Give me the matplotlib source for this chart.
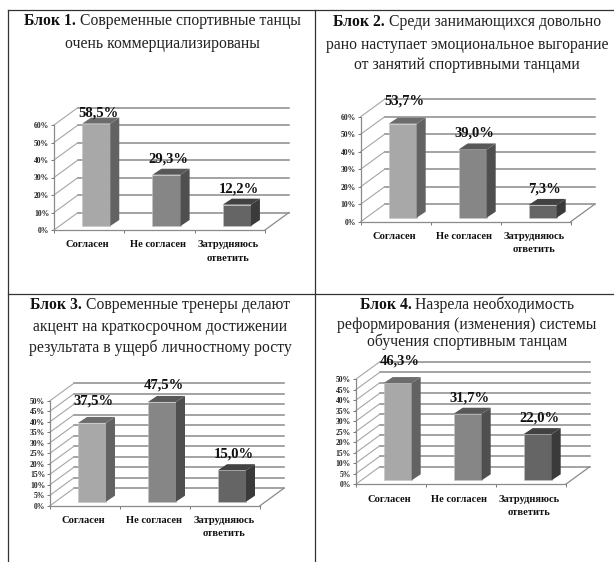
import matplotlib
matplotlib.use("Agg")
import matplotlib.pyplot as plt
from matplotlib.lines import Line2D

W, H = 614, 562
plt.rcParams['font.family'] = ['Liberation Serif', 'DejaVu Serif']

categories = ["Согласен", "Не согласен", "Затрудняюсь\nответить"]
block1_values = [58.5, 29.3, 12.2]
block2_values = [53.7, 39.0, 7.3]
block3_values = [37.5, 47.5, 15.0]
block4_values = [46.3, 31.7, 22.0]
block1_title = ["Современные спортивные танцы", "очень коммерциализированы"]
block2_title = ["Среди занимающихся довольно", "рано наступает эмоциональное выгорание", "от занятий спортивными танцами"]
block3_title = ["Современные тренеры делают", "акцент на краткосрочном достижении", "результата в ущерб личностному росту"]
block4_title = ["Назрела необходимость", "реформирования (изменения) системы", "обучения спортивным танцам"]
block_heads = ["Блок 1.", "Блок 2.", "Блок 3.", "Блок 4."]

front = ['#a8a8a8', '#868686', '#656565']
side = ['#626262', '#4f4f4f', '#3a3a3a']
top = ['#6c6c6c', '#585858', '#424242']
GRID = '#8a8a8a'

# layout: x0, x1, y0, ytop (px), ymax, step, title centre x, title line ys, first-label lift
panels = [
    (54, 265, 230, 125, 60, 10, 162, [21, 44], block1_values, block1_title, block_heads[0], [11, 16, 16]),
    (360.7, 570.7, 221.7, 116.7, 60, 10, 467, [22, 45, 65], block2_values, block2_title, block_heads[1], [22.7, 16, 16]),
    (50, 260, 505.7, 400.7, 50, 5, 160, [305, 327, 348], block3_values, block3_title, block_heads[2], [21.7, 17, 16]),
    (355.7, 565.7, 484.3, 379.3, 50, 5, 467, [305, 325, 342], block4_values, block4_title, block_heads[3], [21.7, 16, 16]),
]

fig = plt.figure(figsize=(W / 100, H / 100), dpi=100, facecolor='white')
renderer = fig.canvas.get_renderer()


def fx(px):
    return px / W


def fy(py):
    return 1 - py / H


def title_lines(head, lines, cx, ys):
    size = 11.35
    b = fig.text(0, 0, head, fontsize=size, fontweight='bold', color='#111111')
    r = fig.text(0, 0, lines[0], fontsize=size, color='#222222')
    bw = b.get_window_extent(renderer).width + 4
    rw = r.get_window_extent(renderer).width
    start = cx - (bw + rw) / 2
    b.set_position((fx(start), fy(ys[0])))
    b.set_va('center')
    r.set_position((fx(start + bw), fy(ys[0])))
    r.set_va('center')
    for line, y in zip(lines[1:], ys[1:]):
        fig.text(fx(cx), fy(y), line, fontsize=size, ha='center', va='center', color='#222222')


for x0, x1, y0, ytop, ymax, step, cx, ys, values, lines, head, lifts in panels:
    ax = fig.add_axes([fx(x0), fy(y0), (x1 - x0) / W, (y0 - ytop) / H])
    ax.patch.set_alpha(0)
    ax.set_xlim(0, 3)
    ax.set_ylim(0, ymax)
    ux = (x1 - x0) / 3          # px per category
    uy = (y0 - ytop) / ymax     # px per percent
    dx, dy = 24 / ux, 17.5 / uy  # wall depth
    bx, by = 9 / ux, 6 / uy      # bar depth
    base = 4 / uy                # bar base lift

    ticks = list(range(0, ymax + 1, step))
    for v in ticks:
        ax.plot([dx, 3 + dx], [v + dy, v + dy], color=GRID, lw=1.1, clip_on=False, zorder=1)
        ax.plot([0, dx], [v, v + dy], color='#a6a6a6', lw=0.8, clip_on=False, zorder=1)
    ax.plot([3, 3 + dx], [0, dy], color=GRID, lw=0.9, clip_on=False, zorder=1)

    left = [i + 0.4 for i in range(3)]
    ax.bar(left, values, width=0.4, bottom=base, align='edge', color=front,
           edgecolor='#c4c4c4', linewidth=0.4, clip_on=False, zorder=3)
    for i, (l, v) in enumerate(zip(left, values)):
        r = l + 0.4
        t = v + base
        ax.fill([r, r + bx, r + bx, r], [base, base + by, t + by, t], color=side[i], lw=0, clip_on=False, zorder=3)
        ax.fill([l, l + bx, r + bx, r], [t, t + by, t + by, t], color=top[i], lw=0, clip_on=False, zorder=3)
        ax.text(l + 0.2 + 2 / ux, t + lifts[i] / uy, f"{v:.1f}%".replace('.', ','),
                ha='center', va='center', fontsize=10.5, fontweight='bold', color='#111111',
                clip_on=False, zorder=5)

    for s in ('top', 'right'):
        ax.spines[s].set_visible(False)
    for s in ('left', 'bottom'):
        ax.spines[s].set_color('#8a8a8a')
        ax.spines[s].set_linewidth(0.9)
    ax.set_yticks(ticks, [f"{v}%" for v in ticks], fontsize=5.5, fontweight='bold', color='#222222')
    ax.tick_params(axis='y', length=2, width=0.7, color='#777777', pad=1.5)
    ax.set_xticks([0, 1, 2, 3], minor=True)
    ax.tick_params(axis='x', which='minor', length=2.5, width=0.7, color='#777777')
    ax.set_xticks([0.48, 1.48, 2.48], categories, fontsize=7.6, fontweight='bold', color='#111111', linespacing=1.6)
    ax.tick_params(axis='x', which='major', length=0, pad=7.5)

    title_lines(head, lines, cx, ys)

# table frame
frame = [((8, 8), (10, 562)), ((8, 614), (10, 10)), ((315, 315), (10, 562)), ((8, 614), (294, 294))]
for xs, yy in frame:
    fig.add_artist(Line2D([fx(v) for v in xs], [fy(v) for v in yy], color='#333333', lw=0.9))

fig.savefig("out.png", dpi=100)
